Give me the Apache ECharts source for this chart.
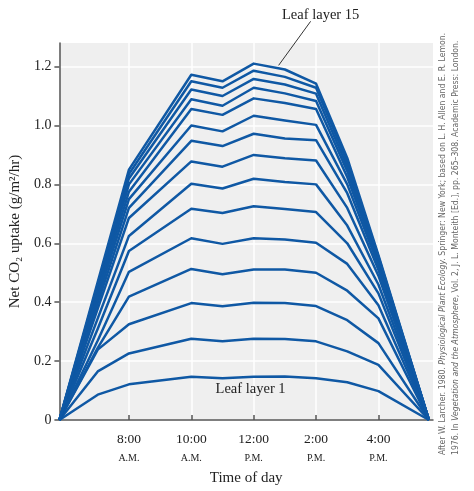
<!DOCTYPE html>
<html>
<head>
<meta charset="utf-8">
<script src="https://cdn.jsdelivr.net/npm/echarts@6/dist/echarts.min.js"></script>
<style>
  html, body { margin: 0; padding: 0; background: #ffffff; }
  #chart { width: 474px; height: 491px; }
</style>
</head>
<body>
<div id="chart"></div>
<script>
// hours of the day (sunrise .. sunset)
const hours = [5.77, 7, 8, 10, 11, 12, 13, 14, 15, 16, 17.62];

// net CO2 uptake per leaf layer, g/m2/hr
const layer1  = [0, 0.086, 0.121, 0.147, 0.142, 0.147, 0.148, 0.142, 0.128, 0.098, 0];
const layer2  = [0, 0.165, 0.226, 0.276, 0.267, 0.276, 0.275, 0.267, 0.233, 0.187, 0];
const layer3  = [0, 0.239, 0.325, 0.397, 0.386, 0.398, 0.397, 0.387, 0.339, 0.261, 0];
const layer4  = [0, 0.245, 0.419, 0.513, 0.495, 0.511, 0.511, 0.500, 0.439, 0.345, 0];
const layer5  = [0, 0.270, 0.503, 0.617, 0.598, 0.617, 0.613, 0.602, 0.530, 0.390, 0];
const layer6  = [0, 0.310, 0.574, 0.717, 0.703, 0.726, 0.716, 0.706, 0.600, 0.430, 0];
const layer7  = [0, 0.345, 0.625, 0.802, 0.786, 0.819, 0.808, 0.800, 0.660, 0.460, 0];
const layer8  = [0, 0.378, 0.686, 0.878, 0.860, 0.900, 0.889, 0.881, 0.720, 0.490, 0];
const layer9  = [0, 0.397, 0.720, 0.948, 0.930, 0.972, 0.956, 0.950, 0.770, 0.510, 0];
const layer10 = [0, 0.414, 0.750, 1.000, 0.980, 1.033, 1.017, 1.002, 0.800, 0.525, 0];
const layer11 = [0, 0.427, 0.775, 1.056, 1.036, 1.092, 1.076, 1.056, 0.825, 0.535, 0];
const layer12 = [0, 0.441, 0.800, 1.089, 1.067, 1.128, 1.109, 1.083, 0.845, 0.543, 0];
const layer13 = [0, 0.452, 0.820, 1.122, 1.100, 1.158, 1.139, 1.108, 0.860, 0.550, 0];
const layer14 = [0, 0.460, 0.835, 1.150, 1.128, 1.186, 1.165, 1.128, 0.875, 0.555, 0];
const layer15 = [0, 0.469, 0.850, 1.172, 1.150, 1.210, 1.190, 1.142, 0.890, 0.560, 0];
const layers = [layer1, layer2, layer3, layer4, layer5, layer6, layer7, layer8,
                layer9, layer10, layer11, layer12, layer13, layer14, layer15];

// axis ticks
const xTicks = [8, 10, 12, 14, 16];
const xTimeLabels = ['8:00', '10:00', '12:00', '2:00', '4:00'];
const xHalfLabels = ['A.M.', 'A.M.', 'P.M.', 'P.M.', 'P.M.'];
const yTicks = [0, 0.2, 0.4, 0.6, 0.8, 1.0, 1.2];

const serif = '"Liberation Serif", "DejaVu Serif", serif';
const narrow = '"Liberation Sans Narrow", "DejaVu Sans Condensed", sans-serif';
const blue = '#0f58a4';

const chart = echarts.init(document.getElementById('chart'));

chart.setOption({
    animation: false,
    grid: {
        left: 54,
        right: 41,
        top: 43,
        bottom: 64,
        show: true,
        backgroundColor: '#efefef',
        borderWidth: 0
    },
    xAxis: {
        type: 'value',
        min: 5.77,
        max: 17.75,
        name: 'Time of day',
        nameLocation: 'middle',
        nameGap: 51,
        nameTextStyle: { fontFamily: serif, fontSize: 15, color: '#222' },
        axisLine: { show: true, lineStyle: { color: '#555', width: 1.5 } },
        axisTick: {
            show: true, inside: true, length: 5,
            customValues: xTicks,
            lineStyle: { color: '#555', width: 1.5 }
        },
        axisLabel: {
            customValues: xTicks,
            margin: 9,
            formatter: function (v) {
                const i = xTicks.indexOf(v);
                return '{t|' + xTimeLabels[i] + '}\n{h|' + xHalfLabels[i] + '}';
            },
            rich: {
                t: { fontFamily: serif, fontSize: 13.5, color: '#222', lineHeight: 20 },
                h: { fontFamily: serif, fontSize: 10, color: '#222', lineHeight: 19 }
            }
        },
        splitLine: { show: true, lineStyle: { color: '#ffffff', width: 1.5 } }
    },
    yAxis: {
        type: 'value',
        min: 0,
        max: 1.28,
        name: 'Net CO₂ uptake (g/m²/hr)',
        nameLocation: 'middle',
        nameGap: 32,
        nameTextStyle: { fontFamily: serif, fontSize: 15, color: '#222' },
        axisLine: { show: true, lineStyle: { color: '#555', width: 1.5 } },
        axisTick: {
            show: true, length: 5,
            customValues: yTicks,
            lineStyle: { color: '#555', width: 1.5 }
        },
        axisLabel: {
            customValues: yTicks,
            margin: 8,
            fontFamily: serif,
            fontSize: 14,
            color: '#222',
            formatter: function (v) { return v === 0 ? '0' : v.toFixed(1); }
        },
        splitLine: { show: true, lineStyle: { color: '#ffffff', width: 1.5 } }
    },
    series: layers.map(function (vals, i) {
        return {
            name: 'Leaf layer ' + (i + 1),
            type: 'line',
            data: hours.map(function (h, j) { return [h, vals[j]]; }),
            showSymbol: false,
            lineStyle: { color: blue, width: 2.5, join: 'round' },
            z: 3
        };
    })
});

// annotations
const anchor = chart.convertToPixel({ gridIndex: 0 }, [12.8, 1.194]);
const label1 = chart.convertToPixel({ gridIndex: 0 }, [11.9, 0.105]);
const creditRich = { i: { fontStyle: 'italic', fontFamily: narrow, fontSize: 8.6, fill: '#666' } };

chart.setOption({
    graphic: [
        {
            type: 'line',
            shape: { x1: anchor[0], y1: anchor[1] - 3, x2: anchor[0] + 32, y2: anchor[1] - 47 },
            style: { stroke: '#333', lineWidth: 1 }
        },
        {
            type: 'text',
            x: anchor[0] + 42, y: anchor[1] - 46,
            style: {
                text: 'Leaf layer 15',
                fontFamily: serif, fontSize: 14.5, fill: '#222',
                align: 'center', verticalAlign: 'bottom'
            }
        },
        {
            type: 'text',
            x: label1[0], y: label1[1],
            style: {
                text: 'Leaf layer 1',
                fontFamily: serif, fontSize: 14.5, fill: '#222',
                align: 'center', verticalAlign: 'middle'
            }
        },
        {
            type: 'text',
            x: 443, y: 455,
            rotation: Math.PI / 2,
            style: {
                text: 'After W. Larcher. 1980. {i|Physiological Plant Ecology.} Springer: New York; based on L. H. Allen and E. R. Lemon.',
                fontFamily: narrow, fontSize: 8.6, fill: '#666',
                align: 'left', verticalAlign: 'middle',
                rich: creditRich
            }
        },
        {
            type: 'text',
            x: 456, y: 455,
            rotation: Math.PI / 2,
            style: {
                text: '1976. In {i|Vegetation and the Atmosphere}, Vol. 2, J. L. Monteith [Ed.], pp. 265–308. Academic Press: London.',
                fontFamily: narrow, fontSize: 8.6, fill: '#666',
                align: 'left', verticalAlign: 'middle',
                rich: creditRich
            }
        }
    ]
});
</script>
</body>
</html>
